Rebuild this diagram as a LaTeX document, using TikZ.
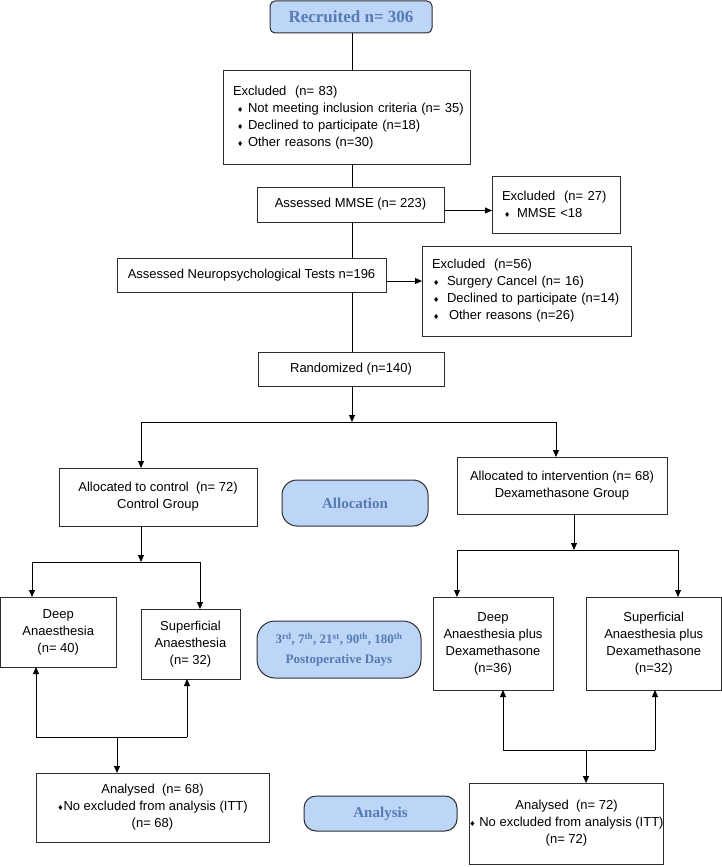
\documentclass[tikz,border=0pt]{standalone}
\usepackage{fontspec}
\setmainfont{Liberation Sans}
\newfontfamily\tnr{Liberation Serif}
\newfontfamily\djv{DejaVu Sans}
\usetikzlibrary{arrows.meta}
\definecolor{pillfill}{RGB}{189,213,246}
\definecolor{pilltext}{RGB}{88,122,178}
\definecolor{edge}{RGB}{45,45,45}
\newcommand\dia{{\djv\fontsize{7}{7}\selectfont ♦}}
\newcommand\bl[1]{\makebox[15pt][l]{\hspace*{#1}\dia}}
\newcommand\bx[7]{\node[#6, minimum width={#4-#2}, minimum height={#5-#3}] (#1) at ({(#2+#4)/2},{(#3+#5)/2}) {#7};}
\begin{document}
\begin{tikzpicture}[x=1pt,y=-1pt,
 box/.style={draw=edge, line width=1pt, rectangle, inner sep=0pt, outer sep=0pt, font=\fontsize{13}{17}\selectfont, align=center},
 lbox/.style={box, align=left, inner xsep=10pt, text width=#1},
 pill/.style={draw=edge, line width=1pt, fill=pillfill, rounded corners=#1, inner sep=0pt, outer sep=0pt, text=pilltext, font=\tnr\bfseries\fontsize{15}{17}\selectfont, align=center},
 ln/.style={line width=1pt, draw=black},
 arr/.style={ln, -{Triangle[length=7pt,width=6pt]}},
]
\useasboundingbox (0,0) rectangle (722,867);

% top column
\bx{rec}{270}{1}{432}{33}{pill=5pt, font=\tnr\bfseries\fontsize{17}{19}\selectfont}{Recruited n= 306}
\bx{ex83}{223}{71}{470}{164}{lbox=227pt}{\mbox{Excluded\ \ (n= 83)}\\
\mbox{\bl{4pt}Not meeting inclusion criteria (n= 35)}\\
\mbox{\bl{4pt}Declined to participate (n=18)}\\
\mbox{\bl{4pt}Other reasons (n=30)}}
\bx{mmse}{257}{187}{444}{222}{box}{Assessed MMSE (n= 223)}
\bx{ex27}{492}{176}{620}{233}{lbox=108pt}{\mbox{Excluded\ \ (n= 27)}\\
\mbox{\bl{2pt}MMSE <18}}
\bx{neuro}{117}{258}{386}{292}{box}{Assessed Neuropsychological Tests n=196}
\bx{ex56}{422}{246}{631}{336}{lbox=189pt}{\mbox{Excluded\ \ (n=56)}\\
\mbox{\bl{1pt}Surgery Cancel (n= 16)}\\
\mbox{\bl{1pt}Declined to participate (n=14)}\\
\mbox{\bl{1pt}\hspace{2pt}Other reasons (n=26)}}
\bx{rand}{258}{352}{444}{386}{box}{Randomized (n=140)}

% allocation
\bx{ctrl}{59}{468}{257}{526}{box}{Allocated to control\ \ (n= 72)\\Control Group}
\bx{alloc}{282}{480}{428}{526}{pill=15pt}{Allocation}
\bx{interv}{457}{457}{667}{514}{box}{Allocated to intervention (n= 68)\\Dexamethasone Group}

% groups
\bx{deep}{0.5}{597}{116}{667}{box}{Deep\\Anaesthesia\\(n= 40)}
\bx{sup}{141}{609}{240}{679}{box}{Superficial\\Anaesthesia\\(n= 32)}
\bx{postop}{257}{621}{421}{678}{pill=18pt, font=\tnr\bfseries\fontsize{13}{20}\selectfont}{3\textsuperscript{rd}, 7\textsuperscript{th}, 21\textsuperscript{st}, 90\textsuperscript{th}, 180\textsuperscript{th}\\Postoperative Days}
\bx{deepdx}{433}{597}{553}{690}{box}{Deep\\Anaesthesia plus\\Dexamethasone\\(n=36)}
\bx{supdx}{586}{597}{721.5}{690}{box}{Superficial\\Anaesthesia plus\\Dexamethasone\\(n=32)}

% analysis
\bx{anL}{36}{773}{269}{842}{box}{Analysed\ \ (n= 68)\\\dia No excluded from analysis (ITT)\\(n= 68)}
\bx{analysis}{304}{796}{457}{831}{pill=12pt}{Analysis}
\bx{anR}{480}{783}{653}{864}{box}{Analysed\ \ (n= 72)\\\dia\ No excluded from analysis (ITT)\\(n= 72)}

% junction coordinates
\coordinate (spine) at (352,0);
\coordinate (jr) at (352,422);
\coordinate (cL) at (141,422);
\coordinate (cR) at (556,422);
\coordinate (jc) at (141,562);
\coordinate (cLL) at (32,562);
\coordinate (cLR) at (200,562);
\coordinate (jv) at (574,550);
\coordinate (vLL) at (457,550);
\coordinate (vLR) at (678,550);
\coordinate (bL) at (36,737);
\coordinate (bR) at (187,737);
\coordinate (bM) at (117,737);
\coordinate (dL) at (503,750);
\coordinate (dR) at (655,750);
\coordinate (dM) at (586,750);

% connectors
\draw[ln] (rec.south -| spine) -- (ex83.north -| spine);
\draw[ln] (ex83.south -| spine) -- (mmse.north -| spine);
\draw[ln] (mmse.south -| spine) -- (neuro.north -| spine);
\draw[ln] (neuro.south -| spine) -- (rand.north -| spine);
\draw[arr] ([yshift=-6pt]mmse.east) -- ([yshift=-6pt]mmse.east -| ex27.west);
\draw[arr] ([yshift=-6pt]neuro.east) -- ([yshift=-6pt]neuro.east -| ex56.west);

\draw[arr] (rand.south -| spine) -- (jr);
\draw[ln] (cL) -- (cR);
\draw[arr] (cL) -- (cL |- ctrl.north);
\draw[arr] (cR) -- (cR |- interv.north);

\draw[arr] (ctrl.south -| jc) -- (jc);
\draw[ln] (cLL) -- (cLR);
\draw[arr] (cLL) -- (cLL |- deep.north);
\draw[arr] (cLR) -- (cLR |- sup.north);

\draw[arr] (interv.south -| jv) -- (jv);
\draw[ln] (vLL) -- (vLR);
\draw[arr] (vLL) -- (vLL |- deepdx.north);
\draw[arr] (vLR) -- (vLR |- supdx.north);

\draw[ln] (bL) -- (bR);
\draw[arr] (bL) -- (bL |- deep.south);
\draw[arr] (bR) -- (bR |- sup.south);
\draw[arr] (bM) -- (bM |- anL.north);

\draw[ln] (dL) -- (dR);
\draw[arr] (dL) -- (dL |- deepdx.south);
\draw[arr] (dR) -- (dR |- supdx.south);
\draw[arr] (dM) -- (dM |- anR.north);
\end{tikzpicture}
\end{document}
